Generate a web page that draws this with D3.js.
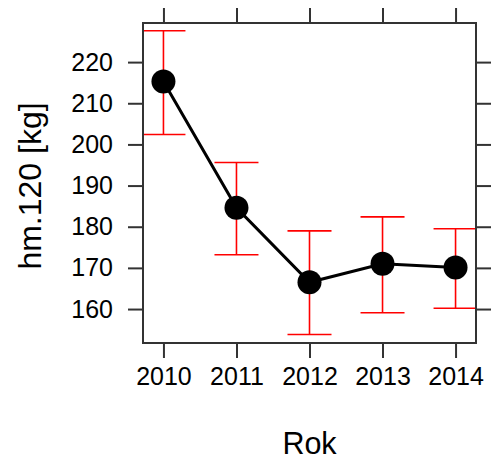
<!DOCTYPE html>
<html>
<head>
<meta charset="utf-8">
<script src="https://cdn.jsdelivr.net/npm/d3@7"></script>
<style>
  html, body { margin: 0; padding: 0; background: #fff; }
  svg { display: block; }
  text { font-family: "Liberation Sans", Arial, sans-serif; fill: #000; }
</style>
</head>
<body>
<svg id="chart" width="491" height="462"></svg>
<script>
// Mean hm.120 per year with error-bar limits
const years = [2010, 2011, 2012, 2013, 2014];
const means = [215.3, 184.6, 166.5, 171.0, 170.1];
const upper = [227.6, 195.6, 179.0, 182.4, 179.5];
const lower = [202.4, 173.2, 153.8, 159.1, 160.2];
const yTicks = [160, 170, 180, 190, 200, 210, 220];
const xTicks = [2010, 2011, 2012, 2013, 2014];

const svg = d3.select("#chart");
const panel = { left: 143, right: 476, top: 23, bottom: 343 };

const x = d3.scaleLinear().domain([2009.72, 2014.28]).range([panel.left, panel.right]);
const y = d3.scaleLinear().domain([151.75, 229.5]).range([panel.bottom, panel.top]);

const axisColor = "#333";
const tickLen = 15;

// axes: ticks on all four sides, labels on left and bottom
const bottomAxis = d3.axisBottom(x).tickValues(xTicks).tickFormat(d3.format("d"))
  .tickSizeInner(tickLen).tickSizeOuter(0).tickPadding(9);
const topAxis = d3.axisTop(x).tickValues(xTicks).tickFormat("")
  .tickSizeInner(tickLen).tickSizeOuter(0);
const leftAxis = d3.axisLeft(y).tickValues(yTicks).tickFormat(d3.format("d"))
  .tickSizeInner(tickLen).tickSizeOuter(0).tickPadding(15);
const rightAxis = d3.axisRight(y).tickValues(yTicks).tickFormat("")
  .tickSizeInner(tickLen).tickSizeOuter(0);

function styleAxis(g) {
  g.select(".domain").remove();
  g.selectAll(".tick line").attr("stroke", axisColor).attr("stroke-width", 2);
  g.selectAll(".tick text")
    .attr("font-family", "Liberation Sans, Arial, sans-serif")
    .attr("font-size", 25)
    .attr("fill", "#000");
}

svg.append("g").attr("transform", `translate(0,${panel.bottom})`).call(bottomAxis).call(styleAxis);
svg.append("g").attr("transform", `translate(0,${panel.top})`).call(topAxis).call(styleAxis);
svg.append("g").attr("transform", `translate(${panel.left},0)`).call(leftAxis).call(styleAxis);
svg.append("g").attr("transform", `translate(${panel.right},0)`).call(rightAxis).call(styleAxis);

// clip region for the panel contents
svg.append("clipPath").attr("id", "panel-clip")
  .append("rect")
  .attr("x", panel.left).attr("y", panel.top)
  .attr("width", panel.right - panel.left).attr("height", panel.bottom - panel.top);

const plot = svg.append("g").attr("clip-path", "url(#panel-clip)");

const data = years.map((yr, i) => ({ yr, m: means[i], lo: lower[i], hi: upper[i] }));
const capHalf = 22;

// error bars
const eb = plot.append("g").attr("stroke", "#ff0000").attr("stroke-width", 1.6).attr("fill", "none");
data.forEach(d => {
  eb.append("line").attr("x1", x(d.yr)).attr("x2", x(d.yr)).attr("y1", y(d.lo)).attr("y2", y(d.hi));
  eb.append("line").attr("x1", x(d.yr) - capHalf).attr("x2", x(d.yr) + capHalf).attr("y1", y(d.hi)).attr("y2", y(d.hi));
  eb.append("line").attr("x1", x(d.yr) - capHalf).attr("x2", x(d.yr) + capHalf).attr("y1", y(d.lo)).attr("y2", y(d.lo));
});

// connecting line
plot.append("path")
  .datum(data)
  .attr("fill", "none")
  .attr("stroke", "#000")
  .attr("stroke-width", 3)
  .attr("d", d3.line().x(d => x(d.yr)).y(d => y(d.m)));

// points
plot.append("g").selectAll("circle").data(data).join("circle")
  .attr("cx", d => x(d.yr)).attr("cy", d => y(d.m)).attr("r", 12)
  .attr("fill", "#000");

// panel border
svg.append("rect")
  .attr("x", panel.left).attr("y", panel.top)
  .attr("width", panel.right - panel.left).attr("height", panel.bottom - panel.top)
  .attr("fill", "none").attr("stroke", axisColor).attr("stroke-width", 2);

// axis titles
svg.append("text")
  .attr("x", (panel.left + panel.right) / 2).attr("y", 454)
  .attr("text-anchor", "middle").attr("font-size", 30.5)
  .text("Rok");

svg.append("text")
  .attr("transform", `translate(41,${(panel.top + panel.bottom) / 2 + 3}) rotate(-90)`)
  .attr("text-anchor", "middle").attr("font-size", 32)
  .text("hm.120 [kg]");
</script>
</body>
</html>
